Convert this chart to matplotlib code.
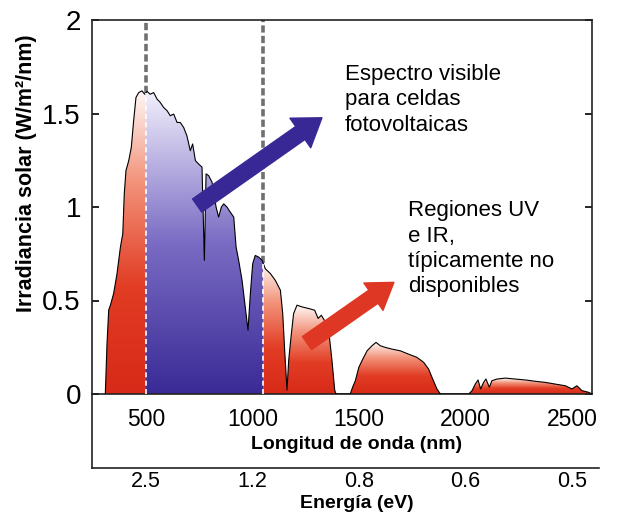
import numpy as np
import matplotlib
matplotlib.use("Agg")
import matplotlib.pyplot as plt
from matplotlib.colors import LinearSegmentedColormap
from matplotlib.patches import Polygon

plt.rcParams['font.family'] = ['Liberation Sans', 'DejaVu Sans']

# spectrum (wavelength in nm, irradiance in W/m2/nm)
wl = [309, 317, 325, 333, 348, 364, 380, 391, 398, 406, 419, 431, 442, 453, 466,
      481, 494, 505, 520, 536, 552, 567, 583, 599, 614, 630, 646, 661, 677, 692,
      708, 719, 732, 747, 763, 774, 782, 794, 810, 829, 841, 854, 865, 880, 896,
      912, 923, 935, 951, 966, 979, 990, 1001, 1013, 1029, 1045, 1060, 1084, 1107,
      1131, 1142, 1151, 1162, 1170, 1181, 1193, 1209, 1232, 1264, 1292, 1308, 1323,
      1342, 1361, 1373, 1386, 1392, 1459, 1470, 1483, 1499, 1514, 1538, 1561, 1580,
      1600, 1624, 1655, 1694, 1733, 1772, 1804, 1827, 1846, 1866, 1882, 2015, 2031,
      2046, 2059, 2071, 2085, 2096, 2112, 2124, 2148, 2187, 2234, 2281, 2328, 2375,
      2422, 2469, 2500, 2523, 2547, 2578, 2594]
irr = [0.0, 0.27, 0.45, 0.475, 0.537, 0.644, 0.786, 0.857, 1.07, 1.195, 1.248, 1.319,
       1.461, 1.586, 1.612, 1.621, 1.603, 1.618, 1.603, 1.612, 1.577, 1.559, 1.532,
       1.515, 1.488, 1.497, 1.452, 1.452, 1.425, 1.381, 1.301, 1.337, 1.248, 1.23,
       1.213, 0.715, 1.177, 1.168, 1.133, 1.0, 0.946, 1.0, 1.017, 1.0, 0.972, 0.946,
       0.786, 0.715, 0.608, 0.465, 0.341, 0.537, 0.697, 0.741, 0.732, 0.715, 0.67,
       0.644, 0.608, 0.555, 0.43, 0.235, 0.021, 0.181, 0.306, 0.43, 0.475, 0.466,
       0.457, 0.448, 0.404, 0.421, 0.386, 0.306, 0.181, 0.021, 0.0, 0.0, 0.036,
       0.071, 0.142, 0.178, 0.231, 0.258, 0.276, 0.258, 0.249, 0.24, 0.231, 0.213,
       0.196, 0.169, 0.133, 0.08, 0.027, 0.0, 0.0, 0.018, 0.053, 0.075, 0.027, 0.062,
       0.08, 0.036, 0.071, 0.08, 0.085, 0.08, 0.075, 0.068, 0.062, 0.053, 0.044,
       0.027, 0.044, 0.018, 0.009, 0.0]
wl = np.array(wl, dtype=float)
irr = np.array(irr)

# coloured chunks of the spectrum: (start, end, colour map name)
segments = [(309, 500, 'red'), (500, 1050, 'blue'), (1050, 1162, 'red'),
            (1162, 1392, 'red'), (1459, 1882, 'red'), (2015, 2594, 'red')]
visible_edges = [500, 1050]

wl_ticks = [500, 1000, 1500, 2000, 2500]
energy_labels = ['2.5', '1.2', '0.8', '0.6', '0.5']
y_ticks = [0, 0.5, 1, 1.5, 2]

cmaps = {
    'red': LinearSegmentedColormap.from_list('r', [(0.0, '#d72a18'), (0.35, '#e23c24'),
                                                   (0.7, '#f2937a'), (1.0, '#fff8f6')]),
    'blue': LinearSegmentedColormap.from_list('b', [(0.0, '#3a2a96'), (0.5, '#7a6cc4'),
                                                    (1.0, '#f2f0fc')]),
}

W, H = 619, 525
fig = plt.figure(figsize=(W / 100, H / 100), dpi=100)
ax = fig.add_axes([92 / W, (H - 394) / H, 500 / W, 374 / H])
ax2 = fig.add_axes([92 / W, (H - 468) / H, 507 / W, 74 / H])

x0, x1 = 246.5, 2594.0

for a, b, cm in segments:
    m = (wl > a) & (wl < b)
    xs = np.concatenate([[a], wl[m], [b]])
    ys = np.interp(xs, wl, irr)
    verts = np.column_stack([np.concatenate([xs, [b, a]]), np.concatenate([ys, [0, 0]])])
    poly = Polygon(verts, closed=True, facecolor='none', edgecolor='none')
    ax.add_patch(poly)
    grad = np.linspace(0, 1, 256).reshape(-1, 1)
    im = ax.imshow(grad, extent=[a, b, 0, ys.max()], origin='lower', aspect='auto',
                   cmap=cmaps[cm], zorder=2, interpolation='bilinear')
    im.set_clip_path(poly)

ax.plot(wl, irr, color='black', lw=0.8, zorder=3)

for e in visible_edges:
    top = np.interp(e, wl, irr)
    ax.plot([e, e], [top, 2], color='#707070', lw=2.6, ls=(0, (2, 0.9)), zorder=1)
    ax.plot([e, e], [0, top], color='white', lw=1.2, ls=(0, (3, 2)), zorder=4)

ax.annotate('', xy=(1326, 1.477), xytext=(740, 1.008),
            arrowprops=dict(arrowstyle='simple,head_width=2.6,head_length=1.9,tail_width=1.15',
                            mutation_scale=10, color='#372896', shrinkA=0, shrinkB=0),
            zorder=5)
ax.annotate('', xy=(1664, 0.597), xytext=(1256, 0.272),
            arrowprops=dict(arrowstyle='simple,head_width=2.4,head_length=1.8,tail_width=1.15',
                            mutation_scale=10, color='#de3723', shrinkA=0, shrinkB=0),
            zorder=5)

ax.text(1434, 1.765, 'Espectro visible\npara celdas\nfotovoltaicas', fontsize=16,
        va='top', ha='left', linespacing=1.27)
ax.text(1730, 1.035, 'Regiones UV\ne IR,\ntípicamente no\ndisponibles', fontsize=16,
        va='top', ha='left', linespacing=1.27)

ax.set_xlim(x0, x1)
ax.set_ylim(0, 2)
ax.set_xticks(wl_ticks)
ax.set_xticklabels([str(t) for t in wl_ticks], fontsize=16.5)
ax.tick_params(axis='x', length=0, pad=10)
ax.set_yticks(y_ticks)
ax.set_yticklabels(['0', '0.5', '1', '1.5', '2'], fontsize=20)
ax.tick_params(axis='y', direction='in', length=5, width=1.2, pad=8, right=True)
for s in ax.spines.values():
    s.set_linewidth(1.2)
    s.set_color('#222222')

ax.set_xlabel('Longitud de onda (nm)', fontsize=14, fontweight='bold')
ax.xaxis.set_label_coords(0.53, -0.112)
ax.xaxis.label.set_va('top')
ax.set_ylabel('Irradiancia solar (W/m²/nm)', fontsize=15.5, fontweight='bold')
ax.yaxis.set_label_coords(-0.13, 0.59)
ax.yaxis.label.set_va('center')

ax2.set_xlim(x0, x0 + (x1 - x0) * 507 / 500)
ax2.set_ylim(0, 1)
ax2.set_xticks(wl_ticks)
ax2.set_xticklabels(energy_labels, fontsize=15.5)
ax2.tick_params(axis='x', length=0, pad=2)
ax2.set_yticks([])
ax2.spines['top'].set_visible(False)
ax2.spines['right'].set_visible(False)
for s in ['left', 'bottom']:
    ax2.spines[s].set_linewidth(1.2)
    ax2.spines[s].set_color('#222222')
ax2.patch.set_alpha(0)
ax2.set_xlabel('Energía (eV)', fontsize=14, fontweight='bold')
ax2.xaxis.set_label_coords(0.523, -0.36)
ax2.xaxis.label.set_va('top')

fig.savefig('out.png', dpi=100)
